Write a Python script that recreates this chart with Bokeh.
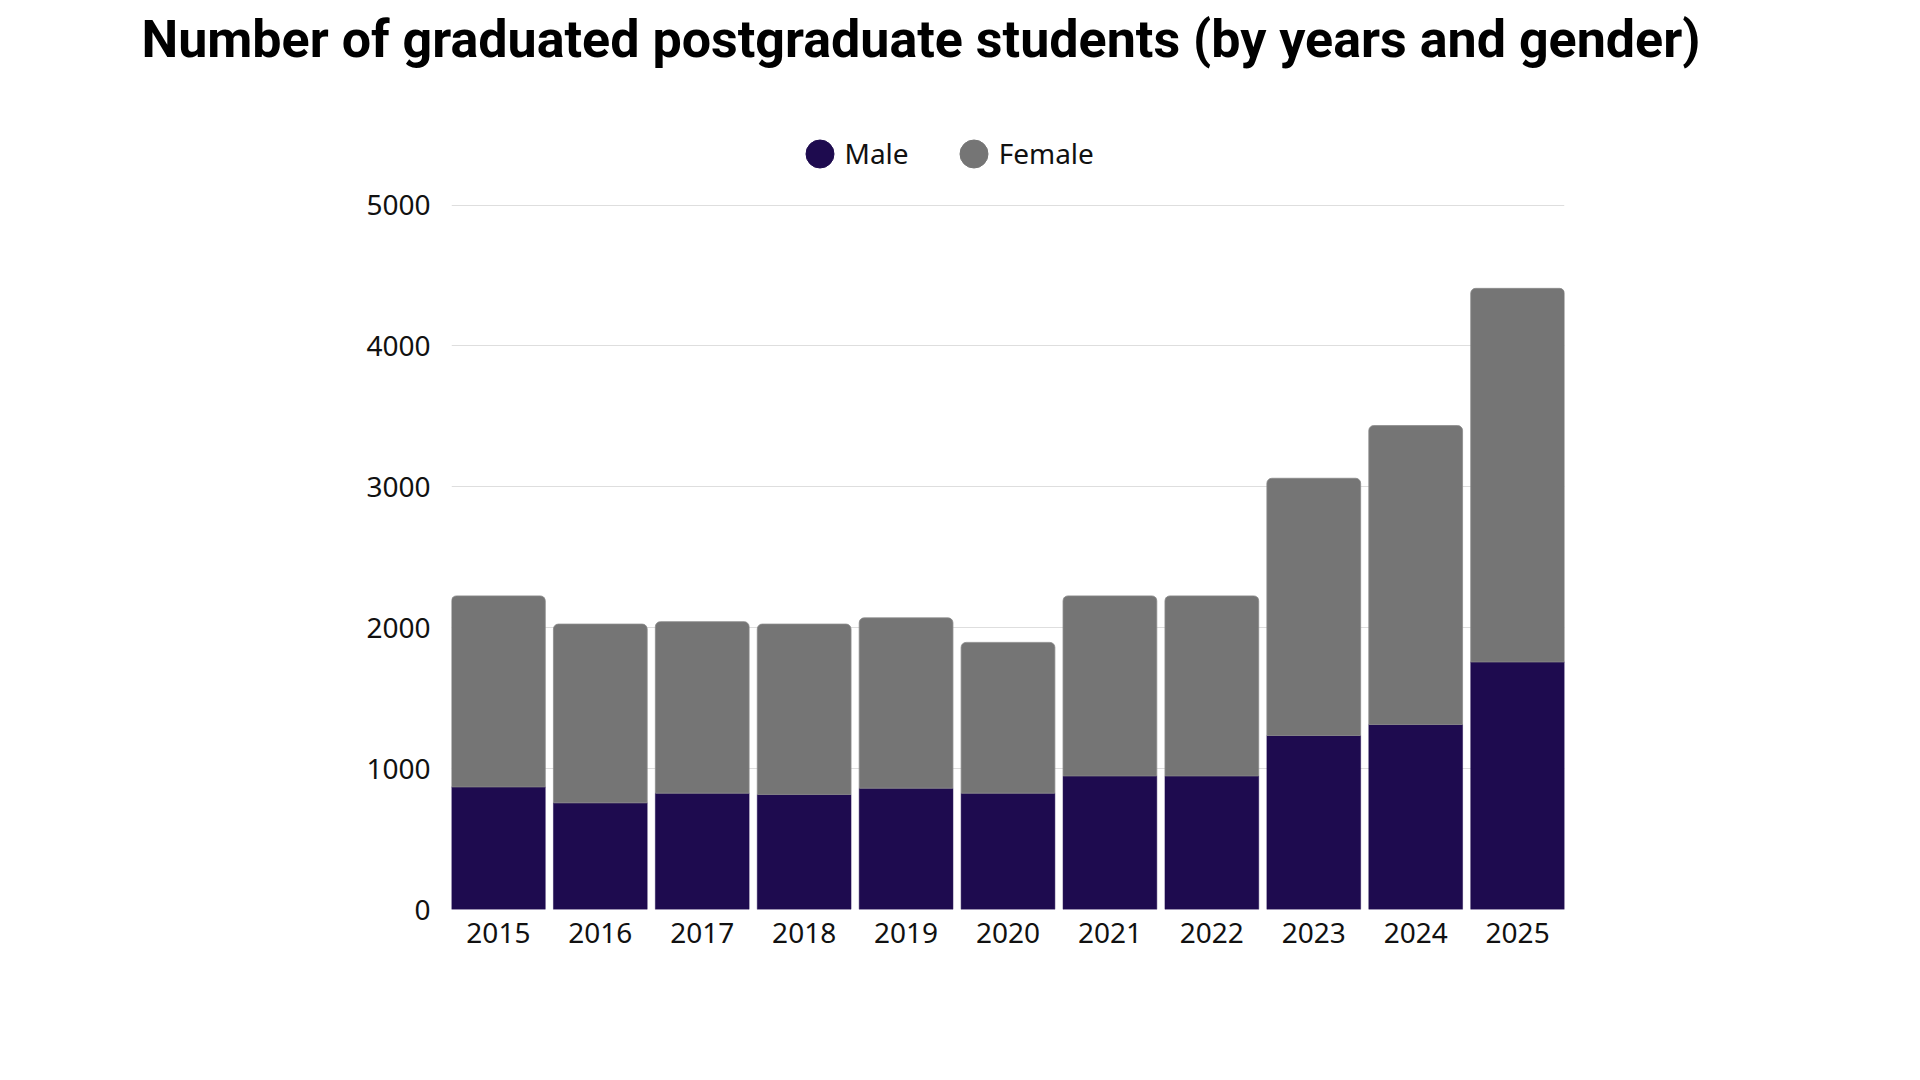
from bokeh.plotting import figure
from bokeh.models import (ColumnDataSource, Range1d, FixedTicker, Legend, LegendItem)
from bokeh.embed import file_html
from bokeh.resources import INLINE

# ---- data ----
years = ["2015", "2016", "2017", "2018", "2019", "2020", "2021", "2022", "2023", "2024", "2025"]
male = [870, 757, 826, 817, 861, 826, 948, 948, 1235, 1313, 1757]
female = [1356, 1269, 1217, 1209, 1209, 1070, 1278, 1278, 1826, 2122, 2652]
series_names = ["Male", "Female"]
series_colors = ["#1e0b4f", "#757575"]
y_ticks = [0, 1000, 2000, 3000, 4000, 5000]
title_text = "Number of graduated postgraduate students (by years and gender)"

idx = list(range(len(years)))
totals = [m + f for m, f in zip(male, female)]
src = ColumnDataSource(dict(x=idx, male=male, total=totals, zero=[0] * len(idx)))

p = figure(width=1904, height=1064, output_backend="svg", toolbar_location=None,
           x_range=Range1d(-0.46, len(years) - 1 + 0.46), y_range=Range1d(0, 5934),
           min_border_left=451, min_border_right=340, min_border_top=73,
           min_border_bottom=155, title=title_text)
p.outline_line_color = None
p.background_fill_color = "white"
p.border_fill_color = "white"

p.title.text_font = "Roboto"
p.title.text_font_style = "bold"
p.title.text_font_size = "52px"
p.title.text_color = "#000000"
p.title.align = "left"
p.title.offset = -310
p.title.standoff = 8

bw = 0.92
p.vbar(x="x", bottom="zero", top="male", width=bw, source=src,
       fill_color=series_colors[0], line_color=series_colors[0], line_width=0.5)
p.vbar(x="x", bottom="male", top="total", width=bw, source=src,
       fill_color=series_colors[1], line_color="#8a8a8a", line_width=0.8,
       border_radius=(5, 5, 0, 0))

# axes
p.xaxis.ticker = FixedTicker(ticks=idx)
p.xaxis.major_label_overrides = {i: y for i, y in zip(idx, years)}
p.yaxis.ticker = FixedTicker(ticks=y_ticks)
for ax in (p.xaxis, p.yaxis):
    ax.axis_line_color = None
    ax.major_tick_line_color = None
    ax.minor_tick_line_color = None
    ax.major_tick_out = 0
    ax.major_tick_in = 0
    ax.major_label_text_font = "Noto Sans"
    ax.major_label_text_font_size = "28px"
    ax.major_label_text_color = "#111111"
p.xaxis.major_label_standoff = 13
p.yaxis.major_label_standoff = 21
p.yaxis.formatter.use_scientific = False

p.xgrid.grid_line_color = None
p.ygrid.grid_line_color = "#dedede"
p.ygrid.grid_line_width = 1.2

# legend with round glyphs (renderers hold a single NaN point, so nothing shows in the plot)
nan = float("nan")
r_m = p.ellipse(x=[nan], y=[nan], width=10, height=10, width_units="screen",
                height_units="screen", fill_color=series_colors[0], line_color=series_colors[0])
r_f = p.ellipse(x=[nan], y=[nan], width=10, height=10, width_units="screen",
                height_units="screen", fill_color=series_colors[1], line_color=series_colors[1])
legend = Legend(items=[LegendItem(label=series_names[0], renderers=[r_m], index=0),
                       LegendItem(label=series_names[1], renderers=[r_f], index=0)],
                orientation="horizontal", location=(350.5, 736.8),
                glyph_width=35, glyph_height=35, label_standoff=8, spacing=47,
                padding=0, margin=0, border_line_alpha=0, background_fill_alpha=0,
                label_text_font="Noto Sans", label_text_font_size="28px",
                label_text_color="#111111")
p.add_layout(legend, "center")

open("out.html", "w").write(file_html(p, INLINE))
